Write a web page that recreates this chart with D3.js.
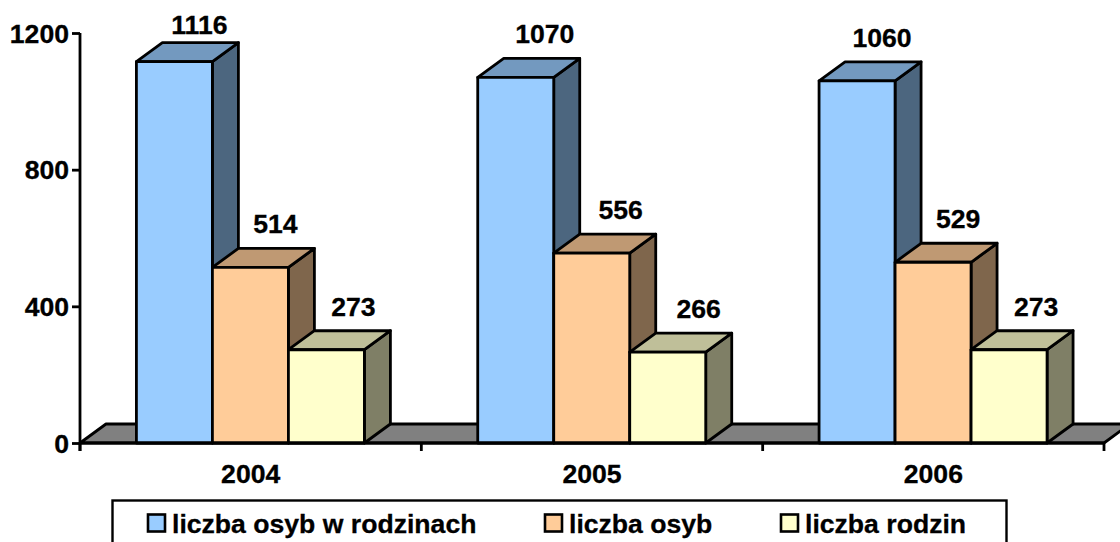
<!DOCTYPE html>
<html><head><meta charset="utf-8">
<script src="https://cdn.jsdelivr.net/npm/d3@7"></script>
<style>
html,body{margin:0;padding:0;background:#fff;overflow:hidden}
svg{display:block}
text{font-family:"Liberation Sans",Arial,sans-serif;font-weight:bold;fill:#000;stroke:#000;stroke-width:0.3px}
</style></head><body><div id="c"></div>
<script>
const years = ["2004","2005","2006"];
const seriesNames = ["liczba osyb w rodzinach","liczba osyb","liczba rodzin"];
const osobyWRodzinach = [1116,1070,1060];
const osoby = [514,556,529];
const rodziny = [273,266,273];
const yTicks = [0,400,800,1200];
const frontColors = ["#99ccff","#ffcc99","#ffffcc"];
const topColors = ["#7399bf","#bf9973","#bfbf99"];
const sideColors = ["#4c667f","#7f664c","#7f7f66"];

const W=1120,H=542, depthX=26, depthY=19, fs=26.6, sw=2.8;
const yearNudge=[0,4,0], seriesNudge=[0,0,2];
const svg=d3.select("#c").append("svg").attr("width",W).attr("height",H);
const x=d3.scaleBand().domain(years).range([80,1104]);
const inner=d3.scaleBand().domain(seriesNames).range([56.4,284.4]);
const y=d3.scaleLinear().domain([0,1200]).range([443,33]);
const line=d3.line();
const poly=(g,pts,fill)=>g.append("path").attr("d",line(pts)+"Z").attr("fill",fill)
  .attr("stroke","#000").attr("stroke-width",sw).attr("stroke-linejoin","round");

// floor
poly(svg,[[80,y(0)],[80+depthX,y(0)-depthY],[1104+depthX,y(0)-depthY],[1104,y(0)]],"#808080");

// bars
const table=[osobyWRodzinach,osoby,rodziny];
years.forEach((yr,i)=>{
  const g=svg.append("g");
  seriesNames.forEach((s,k)=>{
    const v=table[k][i];
    const x0=x(yr)+inner(s), x1=x0+inner.bandwidth(), yt=y(v), yb=y(0);
    poly(g,[[x1,yb],[x1+depthX,yb-depthY],[x1+depthX,yt-depthY],[x1,yt]],sideColors[k]);
    poly(g,[[x0,yt],[x0+depthX,yt-depthY],[x1+depthX,yt-depthY],[x1,yt]],topColors[k]);
    poly(g,[[x0,yb],[x0,yt],[x1,yt],[x1,yb]],frontColors[k]);
  });
  seriesNames.forEach((s,k)=>{
    const v=table[k][i];
    const x0=x(yr)+inner(s);
    g.append("text").attr("x",x0+inner.bandwidth()/2+depthX-1+yearNudge[i]+seriesNudge[k])
      .attr("y",Math.max(y(v)-depthY-15,34))
      .attr("text-anchor","middle").attr("font-size",fs).text(v);
  });
});

// axes
const ya=svg.append("g").attr("transform","translate(80,0)")
  .call(d3.axisLeft(y).tickValues(yTicks).tickSize(8).tickPadding(3).tickFormat(d3.format("d")));
ya.selectAll("text").attr("font-size",fs).attr("dy","0.35em");
ya.select(".domain").attr("d","M0,33V451");
const xa=svg.append("g").attr("transform","translate(0,443)")
  .call(d3.axisBottom(x).tickSize(0).tickPadding(21));
xa.selectAll("text").attr("font-size",fs).attr("dy","0.72em");
xa.select(".domain").attr("d","M80,0H1104");
svg.append("g").selectAll("line").data(years.concat(["end"])).join("line")
  .attr("x1",(d,i)=>i<3?x(d):x.range()[1]).attr("x2",(d,i)=>i<3?x(d):x.range()[1])
  .attr("y1",443).attr("y2",451).attr("stroke","#000").attr("stroke-width",sw);
svg.selectAll(".domain,.tick line").attr("stroke","#000").attr("stroke-width",sw);

// legend
svg.append("rect").attr("x",112.5).attr("y",500.5).attr("width",894).attr("height",60)
  .attr("fill","#fff").attr("stroke","#000").attr("stroke-width",2.4);
const lx=[148,545,781], tx=[172,569,805];
seriesNames.forEach((s,k)=>{
  svg.append("rect").attr("x",lx[k]).attr("y",514.5).attr("width",17).attr("height",17)
    .attr("fill",frontColors[k]).attr("stroke","#000").attr("stroke-width",2.6);
  svg.append("text").attr("x",tx[k]).attr("y",533).attr("font-size",fs).text(s);
});
</script></body></html>
